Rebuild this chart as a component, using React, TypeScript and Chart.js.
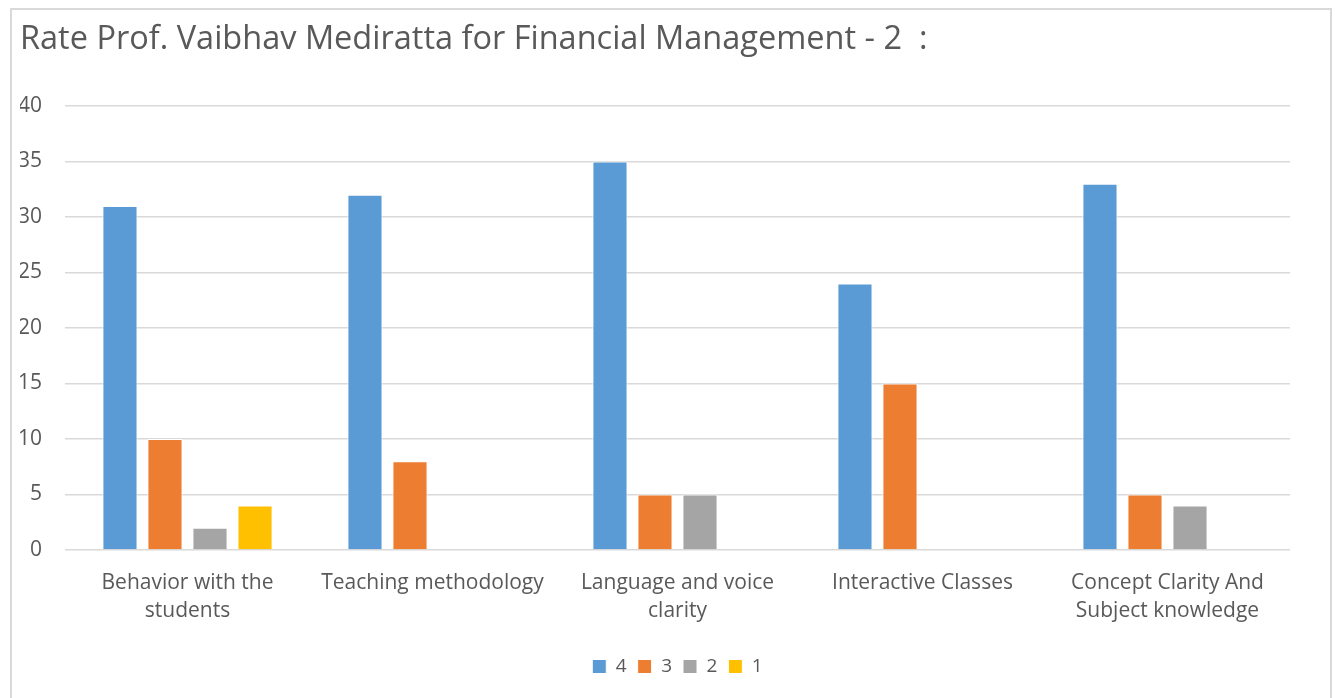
import React, { useEffect, useRef } from "react";
import { Chart, registerables } from "chart.js";

Chart.register(...registerables);

const TITLE = "Rate Prof. Vaibhav Mediratta for Financial Management - 2  :";
const categories: string[][] = [
  ["Behavior with the", "students"],
  ["Teaching methodology"],
  ["Language and voice", "clarity"],
  ["Interactive Classes"],
  ["Concept Clarity And", "Subject knowledge"],
];
const seriesNames = ["4", "3", "2", "1"];
const values4 = [31, 32, 35, 24, 33];
const values3 = [10, 8, 5, 15, 5];
const values2 = [2, null, 5, null, 4];
const values1 = [4, null, null, null, null];
const colors = ["#5B9BD5", "#ED7D31", "#A5A5A5", "#FFC000"];

const FONT = "'Open Sans', 'Noto Sans', sans-serif";
const TEXT = "#595959";

export default function App() {
  const ref = useRef<HTMLCanvasElement | null>(null);
  useEffect(() => {
    document.body.style.margin = "0";
    const all = [values4, values3, values2, values1];
    const chart = new Chart(ref.current!, {
      type: "bar",
      data: {
        labels: categories,
        datasets: all.map((d, i) => ({
          label: seriesNames[i],
          data: d as (number | null)[],
          backgroundColor: colors[i],
          borderColor: "#ffffff",
          borderWidth: 1,
          categoryPercentage: 0.735,
          barPercentage: 0.78,
        })),
      },
      options: {
        animation: false,
        responsive: false,
        maintainAspectRatio: false,
        layout: { padding: { left: 20, right: 0, top: 0, bottom: 12 } },
        plugins: {
          title: {
            display: true,
            text: TITLE,
            align: "start",
            color: TEXT,
            font: { family: FONT, size: 32.5, weight: "normal", lineHeight: 1.2 },
            padding: { top: 20, bottom: 47 },
          },
          legend: {
            position: "bottom",
            labels: {
              color: TEXT,
              font: { family: FONT, size: 19 },
              boxWidth: 14,
              boxHeight: 14,
              padding: 11,
            },
          },
          tooltip: { enabled: false },
        },
        scales: {
          x: {
            afterFit: (s: any) => { s.height = 96; },
            grid: { display: false, drawTicks: false },
            border: { display: false },
            ticks: {
              color: TEXT,
              font: { family: FONT, size: 21, lineHeight: 1.33 },
              padding: 19,
              maxRotation: 0,
              autoSkip: false,
            },
          },
          y: {
            min: 0,
            max: 40,
            afterFit: (s: any) => { s.width = 45; },
            grid: { color: "#d9d9d9", drawTicks: false, lineWidth: 1.5 },
            border: { display: false },
            ticks: {
              stepSize: 5,
              color: TEXT,
              font: { family: FONT, size: 21 },
              padding: 23,
            },
          },
          yRight: {
            position: "right",
            min: 0,
            max: 40,
            afterFit: (s: any) => { s.width = 45; },
            grid: { display: false, drawTicks: false },
            border: { display: false },
            ticks: { display: false },
          },
        },
      },
    });
    return () => chart.destroy();
  }, []);
  return (
    <div style={{ position: "fixed", left: 0, top: 0, width: 1335, height: 698, background: "#fff", overflow: "hidden" }}>
      <div style={{ position: "absolute", left: 10, top: 8, width: 1322, height: 720, border: "2px solid #d9d9d9", boxSizing: "border-box" }} />
      <canvas ref={ref} width={1335} height={698} style={{ position: "absolute", left: 0, top: 0, width: 1335, height: 698 }} />
    </div>
  );
}
